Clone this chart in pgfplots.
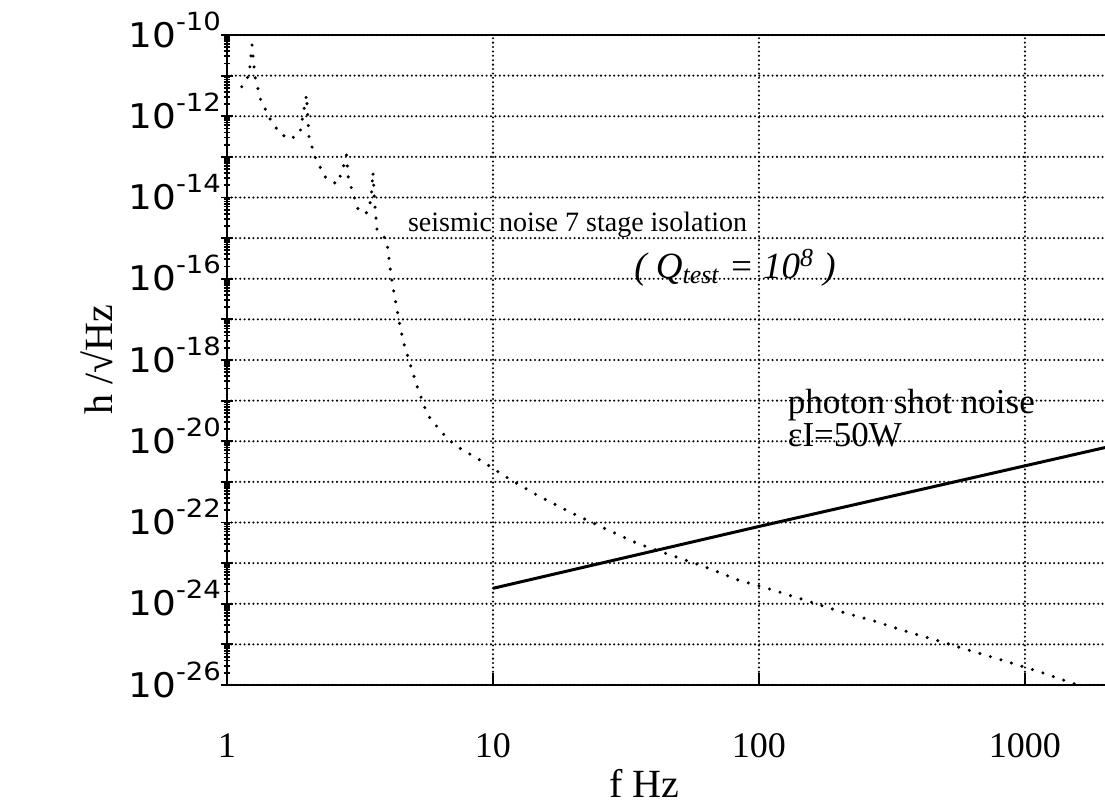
\documentclass[border=0pt]{standalone}
\usepackage{fontspec}
\setmainfont{Liberation Serif}
\newfontfamily\yfont[FakeStretch=1.1]{DejaVu Sans}
\usepackage{pgfplots}
\pgfplotsset{compat=1.18}

% y tick label: 10 with a raised exponent
\newcommand{\yl}[1]{{\yfont\fontsize{17}{17}\selectfont 10\raisebox{8.5pt}{\fontsize{12.5}{12.5}\selectfont -#1}}}

\begin{document}
\begin{tikzpicture}
\begin{axis}[
  name=ax,
  width=439pt, height=325pt, scale only axis,
  xmode=log, ymode=log,
  xmin=1, xmax=2000, ymin=1e-26, ymax=1e-10,
  axis x line=box, axis y line=left,
  axis line style={-, line width=1.3pt, black},
  xtick={1,10,100,1000}, xticklabels={1,10,100,1000},
  xtick pos=left, xminorticks=false,
  ytick={1e-26,1e-25,1e-24,1e-23,1e-22,1e-21,1e-20,1e-19,1e-18,1e-17,1e-16,1e-15,1e-14,1e-13,1e-12,1e-11,1e-10},
  yticklabels={\yl{26},{},\yl{24},{},\yl{22},{},\yl{20},{},\yl{18},{},\yl{16},{},\yl{14},{},\yl{12},{},\yl{10}},
  xticklabel style={font=\fontsize{18}{18}\selectfont, anchor=base, yshift=-36pt},
  yticklabel style={anchor=base east, yshift=-6pt, xshift=3.5pt},
  tick style={black, line width=0.9pt},
  major tick length=6pt, minor tick length=3.5pt,
  grid=major,
  major grid style={black, line width=1.15pt, line cap=round, dash pattern=on 0pt off 2.2pt},
  xlabel={f Hz},
  xlabel style={at={(axis description cs:0.475,-0.1738)}, anchor=base, font=\fontsize{20}{20}\selectfont},
  ylabel={h /√Hz},
  ylabel style={at={(axis description cs:-0.1480,0.5)}, anchor=center, font=\fontsize{20}{20}\selectfont},
]
% seismic noise, 7 stage isolation
\addplot[black, line width=1.7pt, line cap=round, dash pattern=on 0pt off 5.5pt] table {
f h
1.136 5.33e-12
1.210 1.03e-11
1.242 5.67e-11
1.274 9.4e-12
1.339 2.51e-12
1.460 8.05e-13
1.582 3.79e-13
1.725 2.70e-13
1.881 3.86e-13
1.990 3.33e-12
2.034 3.13e-13
2.142 1.00e-13
2.336 3.23e-14
2.585 2.14e-14
2.706 4.23e-14
2.813 1.11e-13
2.858 3.18e-14
2.951 1.52e-14
3.134 4.44e-15
3.351 4.20e-15
3.479 8.63e-15
3.539 4.23e-14
3.585 8.63e-15
3.664 1.67e-15
3.985 8.93e-16
4.042 4.28e-16
4.135 1.23e-16
4.280 3.33e-17
4.443 8.67e-18
4.600 2.79e-18
4.875 8.34e-19
5.168 2.39e-19
5.553 6.50e-20
5.799 3.69e-20
6.323 1.87e-20
6.775 1.12e-20
7.515 6.73e-21
9.195 3.09e-21
11.10 1.37e-21
14.76 4.57e-22
19.76 1.73e-22
26.37 7.1e-23
35.09 3.01e-23
46.97 1.55e-23
62.66 8.11e-24
83.39 3.86e-24
111.6 2.23e-24
151.1 1.19e-24
199.9 6.58e-25
267.6 3.86e-25
356.9 2.10e-25
479.2 1.19e-25
643.3 6.58e-26
853.5 3.79e-26
1139 2.10e-26
1515 1.10e-26
1600 1.0e-26
};
% photon shot noise
\addplot[black, line width=1.5pt] coordinates {(10,2.4e-24) (100,8e-23) (2000,7e-21)};

\node[anchor=base west, font=\fontsize{14}{14}\selectfont] at (axis cs:4.51,1.48e-15) {seismic noise 7 stage isolation};
\node[anchor=base west, font=\fontsize{18.5}{18.5}\selectfont\itshape] at (axis cs:32,1e-16) {( Q\textsubscript{test} = 10\textsuperscript{8} )};
\node[anchor=base west, align=left, inner sep=0pt, font=\fontsize{17.5}{15.3}\selectfont] at (axis cs:128,7.6e-21) {photon shot noise\\εI=50W};
\end{axis}
\pgfresetboundingbox
\path ([shift={(-113.5pt,-60.5pt)}]ax.south west) rectangle ([shift={(0pt,17.5pt)}]ax.north east);
\end{tikzpicture}
\end{document}
